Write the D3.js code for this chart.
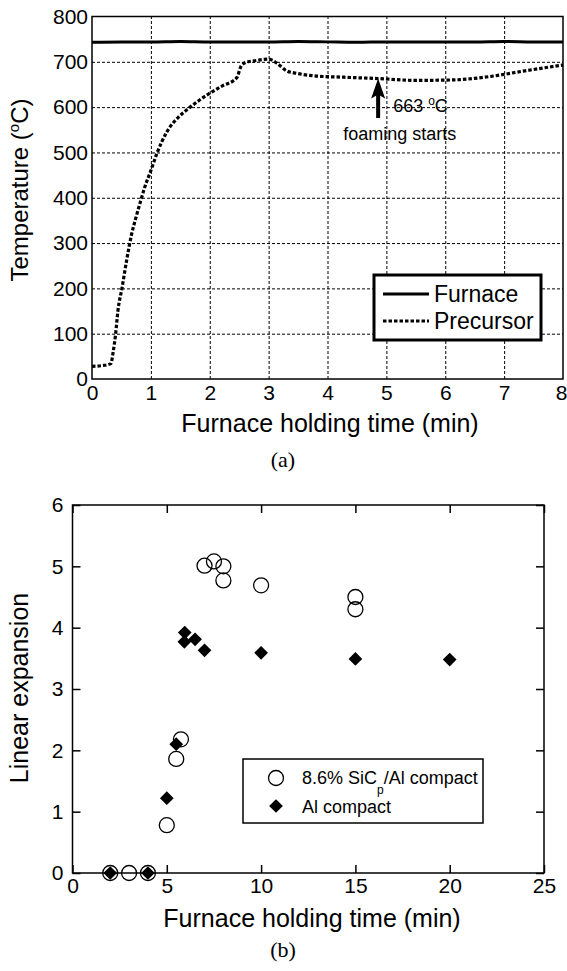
<!DOCTYPE html>
<html lang="en">
<head>
    <meta charset="utf-8" />
    <title>Furnace holding time</title>
    <script src="https://d3js.org/d3.v7.min.js"></script>
    <style>
        body { margin: 0; background: #fff; }
        text { font-family: "Liberation Sans", Arial, sans-serif; fill: #000; }
        .cap { font-family: "Liberation Serif", "Times New Roman", serif; }
    </style>
</head>
<body>
    <script>
        var w = 567;
        var h = 971;

        // (a) temperature curves
        var furnaceTime = [0, 0.5, 1, 1.5, 2, 2.5, 3, 3.5, 4, 4.5, 5, 5.5, 6, 6.5, 7, 7.5, 8];
        var furnaceTemp = [743, 744, 744, 745, 744, 744, 744, 745, 744, 743, 744, 744, 744, 744, 745, 744, 744];

        var precursorTime = [0, 0.2, 0.32, 0.36, 0.40, 0.44, 0.51, 0.59, 0.67, 0.75, 0.82, 0.9, 1.0, 1.1, 1.27,
            1.47, 1.64, 1.8, 1.98, 2.2, 2.46, 2.53, 2.6, 2.8, 3.0, 3.14, 3.31, 3.5, 3.78, 4.28, 4.86,
            5.5, 6.12, 6.73, 7.35, 8.0];
        var precursorTemp = [28, 30, 34, 60, 98, 150, 201, 263, 318, 358, 390, 425, 460, 497, 545,
            578, 597, 613, 629, 646, 665, 690, 698, 703, 706, 697, 680, 674, 669, 666, 663,
            659, 660, 667, 680, 693];

        var timeTicksA = [0, 1, 2, 3, 4, 5, 6, 7, 8];
        var tempTicks = [0, 100, 200, 300, 400, 500, 600, 700, 800];
        var arrowTime = 4.86, arrowTemp = 663, arrowBase = 576;

        // (b) linear expansion
        var sicTime = [2, 3, 4, 5, 5.5, 5.75, 7, 7.5, 8, 8, 10, 15, 15];
        var sicExp = [0, 0, 0, 0.78, 1.86, 2.18, 5.01, 5.08, 5.0, 4.77, 4.69, 4.5, 4.3];
        var alTime = [2, 4, 5, 5.5, 5.95, 5.93, 6.5, 7, 10, 15, 20];
        var alExp = [0, 0, 1.22, 2.1, 3.92, 3.77, 3.81, 3.63, 3.59, 3.49, 3.48];

        var timeTicksB = [0, 5, 10, 15, 20, 25];
        var expTicks = [0, 1, 2, 3, 4, 5, 6];

        var svg = d3.select("body").append("svg")
            .attr("width", w)
            .attr("height", h);

        // ---------- chart (a) ----------
        var xA = d3.scaleLinear().domain([0, 8]).range([92, 563]);
        var yA = d3.scaleLinear().domain([0, 800]).range([379, 16.5]);

        var gA = svg.append("g");

        // grid
        gA.append("g")
            .attr("transform", "translate(0," + yA(0) + ")")
            .call(d3.axisBottom(xA).tickValues(timeTicksA.slice(1, -1)).tickSize(-(yA(0) - yA(800))).tickFormat(""))
            .call(function (g) { g.select(".domain").remove(); })
            .selectAll("line").attr("stroke", "#000").attr("stroke-width", 1).attr("stroke-dasharray", "3,2");
        gA.append("g")
            .attr("transform", "translate(" + xA(0) + ",0)")
            .call(d3.axisLeft(yA).tickValues(tempTicks.slice(1, -1)).tickSize(-(xA(8) - xA(0))).tickFormat(""))
            .call(function (g) { g.select(".domain").remove(); })
            .selectAll("line").attr("stroke", "#000").attr("stroke-width", 1).attr("stroke-dasharray", "3,2");

        // tick labels
        gA.append("g")
            .attr("transform", "translate(0," + yA(0) + ")")
            .call(d3.axisBottom(xA).tickValues(timeTicksA).tickSize(0).tickPadding(6))
            .call(function (g) { g.select(".domain").remove(); })
            .selectAll("text")
            .attr("font-size", "21px").attr("font-family", "Liberation Sans, Arial, sans-serif")
            .attr("dx", function (d) { return d === 8 ? -2 : 0; });
        gA.append("g")
            .attr("transform", "translate(" + xA(0) + ",0)")
            .call(d3.axisLeft(yA).tickValues(tempTicks).tickSize(0).tickPadding(4))
            .call(function (g) { g.select(".domain").remove(); })
            .selectAll("text").attr("font-size", "21px").attr("font-family", "Liberation Sans, Arial, sans-serif");

        // frame
        gA.append("rect")
            .attr("x", xA(0)).attr("y", yA(800))
            .attr("width", xA(8) - xA(0)).attr("height", yA(0) - yA(800))
            .attr("fill", "none").attr("stroke", "#000").attr("stroke-width", 1.5);

        var lineA = d3.line()
            .x(function (d) { return xA(d[0]); })
            .y(function (d) { return yA(d[1]); })
            .curve(d3.curveMonotoneX);

        gA.append("path")
            .datum(d3.zip(furnaceTime, furnaceTemp))
            .attr("d", lineA)
            .attr("fill", "none").attr("stroke", "#000").attr("stroke-width", 3);

        gA.append("path")
            .datum(d3.zip(precursorTime, precursorTemp))
            .attr("d", lineA)
            .attr("fill", "none").attr("stroke", "#000").attr("stroke-width", 3.2)
            .attr("stroke-dasharray", "3.5,2");

        // arrow annotation
        var ax = xA(arrowTime);
        gA.append("line")
            .attr("x1", ax).attr("x2", ax)
            .attr("y1", yA(arrowBase)).attr("y2", yA(arrowTemp) + 14)
            .attr("stroke", "#000").attr("stroke-width", 4);
        gA.append("path")
            .attr("d", "M" + ax + "," + yA(arrowTemp) + " L" + (ax - 7) + "," + (yA(arrowTemp) + 20) +
                " L" + ax + "," + (yA(arrowTemp) + 16) + " L" + (ax + 7) + "," + (yA(arrowTemp) + 20) + " Z")
            .attr("fill", "#000");

        var t663 = gA.append("text")
            .attr("x", ax + 15).attr("y", 112)
            .attr("font-size", "18px");
        t663.append("tspan").text("663 ");
        t663.append("tspan").attr("font-size", "12px").attr("dy", -7).text("o");
        t663.append("tspan").attr("dy", 7).text("C");

        gA.append("text")
            .attr("x", ax - 35).attr("y", 140)
            .attr("font-size", "18px")
            .text("foaming starts");

        // legend
        var legA = gA.append("g");
        legA.append("rect")
            .attr("x", 374).attr("y", 275).attr("width", 167).attr("height", 65)
            .attr("fill", "#fff").attr("stroke", "#000").attr("stroke-width", 3);
        legA.append("line")
            .attr("x1", 383).attr("x2", 429).attr("y1", 294).attr("y2", 294)
            .attr("stroke", "#000").attr("stroke-width", 3);
        legA.append("line")
            .attr("x1", 383).attr("x2", 429).attr("y1", 321).attr("y2", 321)
            .attr("stroke", "#000").attr("stroke-width", 3.2).attr("stroke-dasharray", "3.5,2");
        legA.append("text").attr("x", 434).attr("y", 302).attr("font-size", "23px").text("Furnace");
        legA.append("text").attr("x", 434).attr("y", 329).attr("font-size", "23px").text("Precursor");

        // axis titles
        gA.append("text")
            .attr("x", 330).attr("y", 432)
            .attr("text-anchor", "middle")
            .attr("font-size", "25px")
            .text("Furnace holding time (min)");

        var yTitle = gA.append("text")
            .attr("transform", "translate(28,190) rotate(-90)")
            .attr("text-anchor", "middle")
            .attr("font-size", "24px");
        yTitle.append("tspan").text("Temperature (");
        yTitle.append("tspan").attr("font-size", "15px").attr("dy", -9).text("o");
        yTitle.append("tspan").attr("dy", 9).text("C)");

        svg.append("text").attr("class", "cap")
            .attr("x", 283).attr("y", 467)
            .attr("text-anchor", "middle").attr("font-size", "22px")
            .text("(a)");

        // ---------- chart (b) ----------
        var xB = d3.scaleLinear().domain([0, 25]).range([72.5, 544]);
        var yB = d3.scaleLinear().domain([0, 6]).range([873, 505]);

        var gB = svg.append("g");

        function styleTicks(g) {
            g.select(".domain").remove();
            g.selectAll("line").attr("stroke", "#000").attr("stroke-width", 1.5);
            g.selectAll("text").attr("font-size", "21px").attr("font-family", "Liberation Sans, Arial, sans-serif");
        }

        gB.append("g")
            .attr("transform", "translate(0," + yB(0) + ")")
            .call(d3.axisBottom(xB).tickValues(timeTicksB).tickSize(-8).tickPadding(5).tickFormat(d3.format("d")))
            .call(styleTicks);
        gB.append("g")
            .attr("transform", "translate(0," + yB(6) + ")")
            .call(d3.axisTop(xB).tickValues(timeTicksB).tickSize(-8).tickFormat(""))
            .call(styleTicks);
        gB.append("g")
            .attr("transform", "translate(" + xB(0) + ",0)")
            .call(d3.axisLeft(yB).tickValues(expTicks).tickSize(-8).tickPadding(9).tickFormat(d3.format("d")))
            .call(styleTicks);
        gB.append("g")
            .attr("transform", "translate(" + xB(25) + ",0)")
            .call(d3.axisRight(yB).tickValues(expTicks).tickSize(-8).tickFormat(""))
            .call(styleTicks);

        gB.append("rect")
            .attr("x", xB(0)).attr("y", yB(6))
            .attr("width", xB(25) - xB(0)).attr("height", yB(0) - yB(6))
            .attr("fill", "none").attr("stroke", "#000").attr("stroke-width", 1.5);

        var diamond = d3.symbol().type(d3.symbolDiamond2).size(120);

        gB.selectAll(".sic")
            .data(d3.zip(sicTime, sicExp))
            .enter().append("circle")
            .attr("class", "sic")
            .attr("cx", function (d) { return xB(d[0]); })
            .attr("cy", function (d) { return yB(d[1]); })
            .attr("r", 7.5)
            .attr("fill", "none").attr("stroke", "#000").attr("stroke-width", 1.3);

        gB.selectAll(".al")
            .data(d3.zip(alTime, alExp))
            .enter().append("path")
            .attr("class", "al")
            .attr("d", diamond)
            .attr("transform", function (d) { return "translate(" + xB(d[0]) + "," + yB(d[1]) + ")"; })
            .attr("fill", "#000");

        // legend
        var legB = gB.append("g");
        legB.append("rect")
            .attr("x", 243).attr("y", 759).attr("width", 240).attr("height", 64)
            .attr("fill", "#fff").attr("stroke", "#000").attr("stroke-width", 1.5);
        legB.append("circle")
            .attr("cx", 276).attr("cy", 778).attr("r", 7.5)
            .attr("fill", "none").attr("stroke", "#000").attr("stroke-width", 1.3);
        legB.append("path")
            .attr("d", diamond)
            .attr("transform", "translate(276,806)")
            .attr("fill", "#000");
        var sicLabel = legB.append("text").attr("x", 302).attr("y", 784).attr("font-size", "18px");
        sicLabel.append("tspan").text("8.6% SiC");
        sicLabel.append("tspan").attr("font-size", "12px").attr("dy", 10).text("p");
        sicLabel.append("tspan").attr("dy", -10).text("/Al compact");
        legB.append("text").attr("x", 302).attr("y", 813).attr("font-size", "18px").text("Al compact");

        gB.append("text")
            .attr("x", 312).attr("y", 927)
            .attr("text-anchor", "middle")
            .attr("font-size", "25px")
            .text("Furnace holding time (min)");

        gB.append("text")
            .attr("transform", "translate(28,688) rotate(-90)")
            .attr("text-anchor", "middle")
            .attr("font-size", "25px")
            .text("Linear expansion");

        svg.append("text").attr("class", "cap")
            .attr("x", 283).attr("y", 957)
            .attr("text-anchor", "middle").attr("font-size", "22px")
            .text("(b)");
    </script>
</body>
</html>
